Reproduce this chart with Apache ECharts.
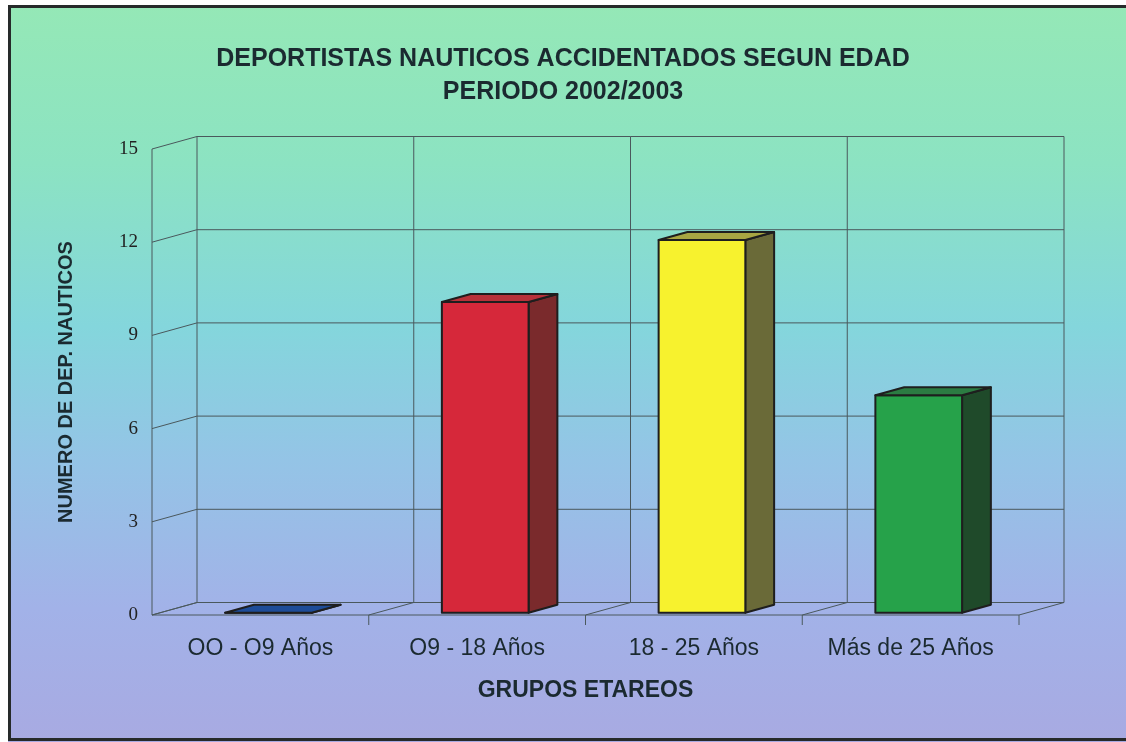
<!DOCTYPE html>
<html>
<head>
<meta charset="utf-8">
<script src="https://cdn.jsdelivr.net/npm/echarts@6/dist/echarts.min.js"></script>
<style>
  html, body { margin: 0; padding: 0; background: #fff; }
  #chart { width: 1126px; height: 742px; }
</style>
</head>
<body>
<div id="chart"></div>
<script>
// data
const categories = ['OO - O9 Años', 'O9 - 18 Años', '18 - 25 Años', 'Más de 25 Años'];
const values = [0, 10, 12, 7];
const yTicks = [0, 3, 6, 9, 12, 15];

const frontColors = ['#1d4c98', '#d6283a', '#f7f22e', '#26a24a'];
const topColors = ['#1d4c98', '#b8323a', '#a8a642', '#2b7c42'];
const sideColors = ['#183d78', '#7a2a2c', '#6a6a38', '#1f4a2a'];

// depth of the floor, in pixels (x, y)
const DX = 45, DY = -12.5;
const lineColor = '#4a585c';
const textColor = '#1b2a30';

const chart = echarts.init(document.getElementById('chart'));

function lineEl(points, w) {
  return {
    type: 'polyline',
    shape: { points: points },
    style: { stroke: lineColor, lineWidth: w || 1, fill: null }
  };
}

chart.setOption({
  backgroundColor: {
    type: 'linear', x: 0, y: 0, x2: 0, y2: 1,
    colorStops: [
      { offset: 0, color: '#95e8b6' },
      { offset: 0.22, color: '#8ce3c2' },
      { offset: 0.44, color: '#84d6dc' },
      { offset: 0.62, color: '#94c4e6' },
      { offset: 0.82, color: '#a2b2e8' },
      { offset: 1, color: '#a8aae2' }
    ]
  },
  title: {
    text: 'DEPORTISTAS NAUTICOS ACCIDENTADOS SEGUN EDAD\nPERIODO 2002/2003',
    left: 'center',
    top: 38,
    textStyle: {
      fontFamily: 'Liberation Sans, Arial, sans-serif',
      fontWeight: 'bold',
      fontSize: 25,
      lineHeight: 33,
      color: textColor
    }
  },
  graphic: [
    { type: 'rect', shape: { x: 0, y: 0, width: 1126, height: 5 }, style: { fill: '#fff' } },
    { type: 'rect', shape: { x: 0, y: 0, width: 8, height: 742 }, style: { fill: '#fff' } },
    {
      type: 'rect',
      shape: { x: 9.5, y: 6.5, width: 1130, height: 733 },
      style: { fill: null, stroke: '#262a2a', lineWidth: 3 }
    }
  ],
  grid: { left: 152, right: 107, top: 149, bottom: 127 },
  xAxis: {
    type: 'category',
    data: categories,
    name: 'GRUPOS ETAREOS',
    nameLocation: 'middle',
    nameGap: 64,
    nameTextStyle: {
      fontFamily: 'Liberation Sans, Arial, sans-serif',
      fontWeight: 'bold',
      fontSize: 23,
      color: textColor
    },
    axisLine: { show: false },
    axisTick: { show: false },
    axisLabel: {
      interval: 0,
      margin: 22,
      fontFamily: 'Liberation Sans, Arial, sans-serif',
      fontSize: 23,
      color: textColor
    }
  },
  yAxis: {
    type: 'value',
    min: 0,
    max: 15,
    interval: 3,
    name: 'NUMERO DE DEP. NAUTICOS',
    nameLocation: 'middle',
    nameGap: 76,
    nameTextStyle: {
      fontFamily: 'Liberation Sans, Arial, sans-serif',
      fontWeight: 'bold',
      fontSize: 20,
      color: textColor
    },
    axisLine: { show: false },
    axisTick: { show: false },
    splitLine: { show: false },
    axisLabel: {
      margin: 14,
      fontFamily: 'Liberation Serif, Times New Roman, serif',
      fontSize: 19,
      color: '#222'
    }
  },
  series: [
    {
      // left wall diagonals and back wall horizontal lines
      type: 'custom',
      silent: true,
      z: 1,
      data: yTicks.map(function (t) { return [0, t]; }),
      renderItem: function (params, api) {
        const cs = params.coordSys;
        const y = api.coord([0, api.value(1)])[1];
        const left = cs.x, right = cs.x + cs.width;
        const children = [lineEl([[left, y], [left + DX, y + DY], [right + DX, y + DY]])];
        if (api.value(1) === 0) {
          children.push(lineEl([[left, y], [right, y]]));
        }
        return { type: 'group', children: children };
      }
    },
    {
      // back wall verticals and floor dividers
      type: 'custom',
      silent: true,
      z: 1,
      data: categories.concat(['']).map(function () { return [0, 0]; }),
      renderItem: function (params, api) {
        const cs = params.coordSys;
        const k = params.dataIndex;
        const bx = cs.x + k * cs.width / categories.length;
        const y0 = api.coord([0, 0])[1];
        const yTop = api.coord([0, yTicks[yTicks.length - 1]])[1];
        const children = [
          lineEl([[bx + DX, y0 + DY], [bx + DX, yTop + DY]]),
          lineEl([[bx, y0], [bx + DX, y0 + DY]])
        ];
        if (k === 0) {
          children.push(lineEl([[bx, yTop], [bx, y0]]));
        } else {
          children.push(lineEl([[bx, y0], [bx, y0 + 10]]));
        }
        return { type: 'group', children: children };
      }
    },
    {
      type: 'custom',
      z: 3,
      data: values.map(function (v, i) { return [i, v]; }),
      renderItem: function (params, api) {
        const i = api.value(0);
        const v = api.value(1);
        const c0 = api.coord([i, 0]);
        const c1 = api.coord([i, v]);
        const bw = api.size([1, 0])[0];
        const w = bw * 0.4;
        const f = 0.18, b = 0.82;
        const xl = c0[0] - w / 2 + DX * f;
        const xr = xl + w;
        const yb = c0[1] + DY * f;
        const yt = c1[1] + DY * f;
        const ddx = DX * (b - f), ddy = DY * (b - f);
        const stroke = { stroke: '#1e1e1e', lineWidth: 2, lineJoin: 'round' };
        return {
          type: 'group',
          children: [
            {
              type: 'polygon',
              shape: { points: [[xr, yt], [xr + ddx, yt + ddy], [xr + ddx, yb + ddy], [xr, yb]] },
              style: Object.assign({ fill: sideColors[i] }, stroke)
            },
            {
              type: 'polygon',
              shape: { points: [[xl, yt], [xr, yt], [xr, yb], [xl, yb]] },
              style: Object.assign({ fill: frontColors[i] }, stroke)
            },
            {
              type: 'polygon',
              shape: { points: [[xl, yt], [xr, yt], [xr + ddx, yt + ddy], [xl + ddx, yt + ddy]] },
              style: Object.assign({ fill: topColors[i] }, stroke)
            }
          ]
        };
      }
    }
  ]
});
</script>
</body>
</html>
